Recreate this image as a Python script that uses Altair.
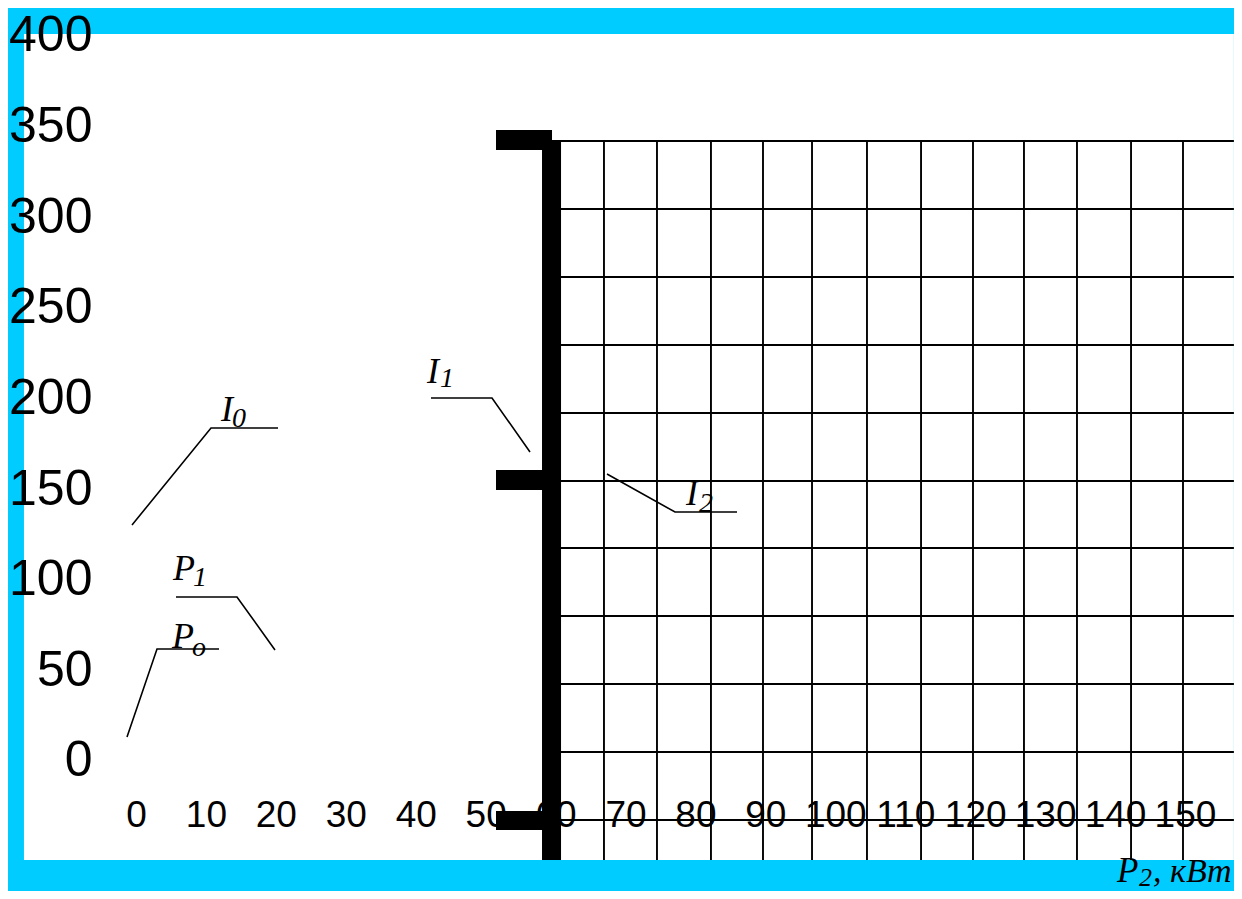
import altair as alt
import pandas as pd

# ---- axis tick labels -------------------------------------------------
x_ticks = [0, 10, 20, 30, 40, 50, 60, 70, 80, 90, 100, 110, 120, 130, 140, 150]
y_ticks = [0, 50, 100, 150, 200, 250, 300, 350, 400]

# ---- grid (data units) ------------------------------------------------
grid_x = [66.92, 74.50, 82.22, 89.66, 96.67, 104.53, 112.26, 119.69,
          126.98, 134.56, 142.29, 149.72]
grid_x_span = [340.41, -56.28]          # y extent of vertical grid lines
grid_y = [340.41, 302.90, 265.38, 227.86, 190.34, 152.83, 115.86,
          78.34, 40.83, 3.31, -34.21]
grid_y_span = [59.5, 157.0]             # x extent of horizontal grid lines

# ---- white panel ------------------------------------------------------
panel_x = [-16.02, 157.0]
panel_y = [-56.28, 399.45]

# ---- thick black bar with three tabs ------------------------------------
bar_x1 = [58.06, 51.48, 51.48, 51.48]
bar_x2 = [60.78, 59.49, 58.70, 58.49]
bar_y1 = [340.97, 335.45, 147.86, -39.72]
bar_y2 = [-56.28, 346.48, 158.90, -29.24]

# ---- leader lines -----------------------------------------------------
lead_names = ["I0", "P1", "Po", "I1", "I2"]
lead_x = [[-0.572, 10.725, 20.306],
          [5.720, 14.443, 19.877],
          [-1.287, 3.003, 11.869],
          [42.185, 50.908, 56.342],
          [67.353, 77.077, 85.943]]
lead_y = [[128.55, 182.07, 182.07],
          [88.83, 88.83, 59.59],
          [11.59, 60.14, 60.14],
          [198.62, 198.62, 168.83],
          [156.69, 135.72, 135.72]]

# ---- italic labels (main letter + subscript) ---------------------------
lab_text = ["I", "0", "P", "1", "P", "o", "I", "1", "I", "2", "P", "2", ", кВт"]
lab_x = [12.155, 13.728, 5.291, 8.151, 5.148, 8.008, 41.613, 43.472,
         78.650, 80.509, 140.28, 143.43, 145.43]
lab_y = [185.93, 182.62, 98.21, 94.90, 60.69, 56.28, 206.90, 204.69,
         139.59, 135.72, -68.41, -70.62, -68.41]
lab_size = [36, 28, 36, 28, 36, 28, 36, 28, 36, 28, 35, 26, 34]

# ---- scales -----------------------------------------------------------
W, H = 1226, 883
X_DOMAIN = [-18.304, 157.014]
Y_DOMAIN = [-73.38, 413.79]
xs = alt.Scale(domain=X_DOMAIN, nice=False, zero=False)
ys = alt.Scale(domain=Y_DOMAIN, nice=False, zero=False)

x_axis = alt.Axis(values=x_ticks, orient="bottom", offset=-75.4, title=None,
                  grid=False, domain=False, ticks=False, tickSize=0,
                  labelPadding=0, labelFont="Liberation Sans", labelFontSize=37,
                  labelColor="black", labelBaseline="middle", labelAlign="center",
                  labelFlush=False, labelOverlap=False, labelBound=False, zindex=1)
y_axis = alt.Axis(values=y_ticks, orient="left", offset=-84, title=None,
                  grid=False, domain=False, ticks=False, tickSize=0,
                  labelPadding=0, labelFont="Liberation Sans", labelFontSize=50,
                  labelColor="black", labelBaseline="middle", labelAlign="right",
                  labelOffset=3,
                  labelFlush=False, labelOverlap=False, labelBound=False, zindex=1)


def X(f):
    return alt.X(f, type="quantitative", scale=xs, axis=x_axis)


def Y(f):
    return alt.Y(f, type="quantitative", scale=ys, axis=y_axis)


panel_df = pd.DataFrame({"x1": [panel_x[0]], "x2": [panel_x[1]],
                         "y1": [panel_y[0]], "y2": [panel_y[1]]})
panel = alt.Chart(panel_df).mark_rect(color="white").encode(
    x=X("x1"), x2="x2", y=Y("y1"), y2="y2")

vdf = pd.DataFrame({"x": grid_x, "y1": grid_x_span[0], "y2": grid_x_span[1]})
vgrid = alt.Chart(vdf).mark_rule(color="black", strokeWidth=1.9).encode(
    x=X("x"), y=Y("y1"), y2="y2")

hdf = pd.DataFrame({"y": grid_y, "x1": grid_y_span[0], "x2": grid_y_span[1]})
hgrid = alt.Chart(hdf).mark_rule(color="black", strokeWidth=1.9).encode(
    y=Y("y"), x=X("x1"), x2="x2")

bdf = pd.DataFrame({"x1": bar_x1, "x2": bar_x2, "y1": bar_y1, "y2": bar_y2})
bars = alt.Chart(bdf).mark_rect(color="black").encode(
    x=X("x1"), x2="x2", y=Y("y1"), y2="y2")

rows = []
for n, xs_, ys_ in zip(lead_names, lead_x, lead_y):
    for i, (a, b) in enumerate(zip(xs_, ys_)):
        rows.append({"name": n, "i": i, "x": a, "y": b})
ldf = pd.DataFrame(rows)
leads = alt.Chart(ldf).mark_line(color="black", strokeWidth=1.6).encode(
    x=X("x"), y=Y("y"), detail="name:N", order="i:Q")

tdf = pd.DataFrame({"t": lab_text, "x": lab_x, "y": lab_y, "fs": lab_size})
texts = alt.Chart(tdf).mark_text(align="left", baseline="alphabetic",
                                 font="Liberation Serif", fontStyle="italic",
                                 color="black").encode(
    x=X("x"), y=Y("y"), text="t:N",
    size=alt.Size("fs:Q", scale=None, legend=None))

chart = alt.layer(panel, vgrid, hgrid, bars, leads, texts).properties(
    width=W, height=H, padding=0, background="#00CCFF",
    autosize=alt.AutoSizeParams(type="none")
).configure_view(strokeWidth=0)

chart.save("out.html", embed_options={"renderer": "svg", "actions": False})
